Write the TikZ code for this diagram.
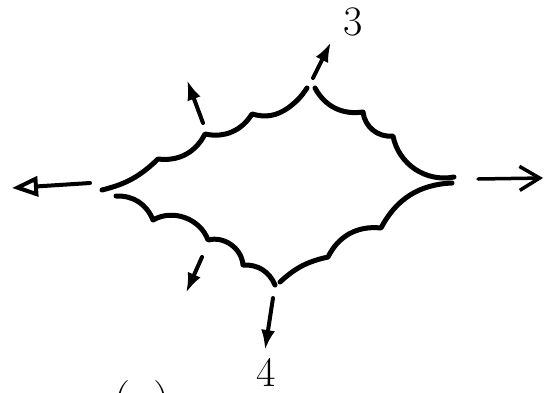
\documentclass[tikz,border=0pt]{standalone}
\usepackage{tikz}
\usetikzlibrary{
    arrows.meta
}
\tikzset{
    borde/.style={
        line width=5pt,
        line cap=round,
        line join=round
    },
    flecha/.style={
        line width=4pt,
        line cap=round,
        -{Latex[length=20pt,width=14pt]}
    },
    etiqueta/.style={
        font=\fontsize{42}{50}\selectfont,
        inner sep=0pt
    }
}

\begin{document}
\begin{tikzpicture}[
    x=1pt,
    y=-1pt
]

    \useasboundingbox (0,0) rectangle (545,392);
    \clip (0,0) rectangle (545,392);

    % Vertices
    \coordinate (l1) at (102,190);
    \coordinate (l2) at (116,196);
    \coordinate (t1) at (307,88);
    \coordinate (t2) at (315,88);
    \coordinate (r1) at (454,177);
    \coordinate (r2) at (452,183);
    \coordinate (b1) at (275,285);
    \coordinate (b2) at (280,282);

    % Bordes
    \draw[borde] (l1)
        to[bend right=15] (158,159)
        to[bend right=35] (205,134)
        to[bend right=35] (252,114)
        to[bend right=25] (288,108)
        to[bend right=10] (t1);
    \draw[borde] (t2)
        to[bend right=35] (363,112)
        to[bend right=45] (393,136)
        to[bend right=45] (r1);
    \draw[borde] (r2)
        to[bend right=30] (381,228)
        to[bend right=35] (328,257)
        to[bend right=15] (b2);
    \draw[borde] (b1)
        to[bend right=35] (243,265)
        to[bend right=50] (208,240)
        to[bend right=50] (153,220)
        to[bend right=35] (l2);

    % Flechas
    \coordinate (izq0) at (90,183);
    \coordinate (izq1) at (12,188);
    \coordinate (der0) at (478,179);
    \coordinate (der1) at (543,178);
    \coordinate (arr0) at (313,78);
    \coordinate (arr1) at (331,42);
    \coordinate (ui0)  at (203,123);
    \coordinate (ui1)  at (187,80);
    \coordinate (li0)  at (202,257);
    \coordinate (li1)  at (186,293);
    \coordinate (ab0)  at (273,298);
    \coordinate (ab1)  at (265,350);

    \draw[line width=4pt, line cap=round,
        -{Triangle[open,length=26pt,width=20pt]}] (izq0) -- (izq1);
    \draw[line width=3.5pt, line cap=round,
        -{Straight Barb[length=20pt,width=24pt]}] (der0) -- (der1);
    \draw[flecha] (arr0) -- (arr1);
    \draw[flecha] (ui0) -- (ui1);
    \draw[flecha] (li0) -- (li1);
    \draw[flecha] (ab0) -- (ab1);

    % Etiquetas
    \node[etiqueta] (n3) at (353,22)  {3};
    \node[etiqueta] (n4) at (266,372) {4};
    \node[font=\fontsize{48}{56}\selectfont, anchor=base] (na) at (142,416) {(a)};

\end{tikzpicture}
\end{document}
